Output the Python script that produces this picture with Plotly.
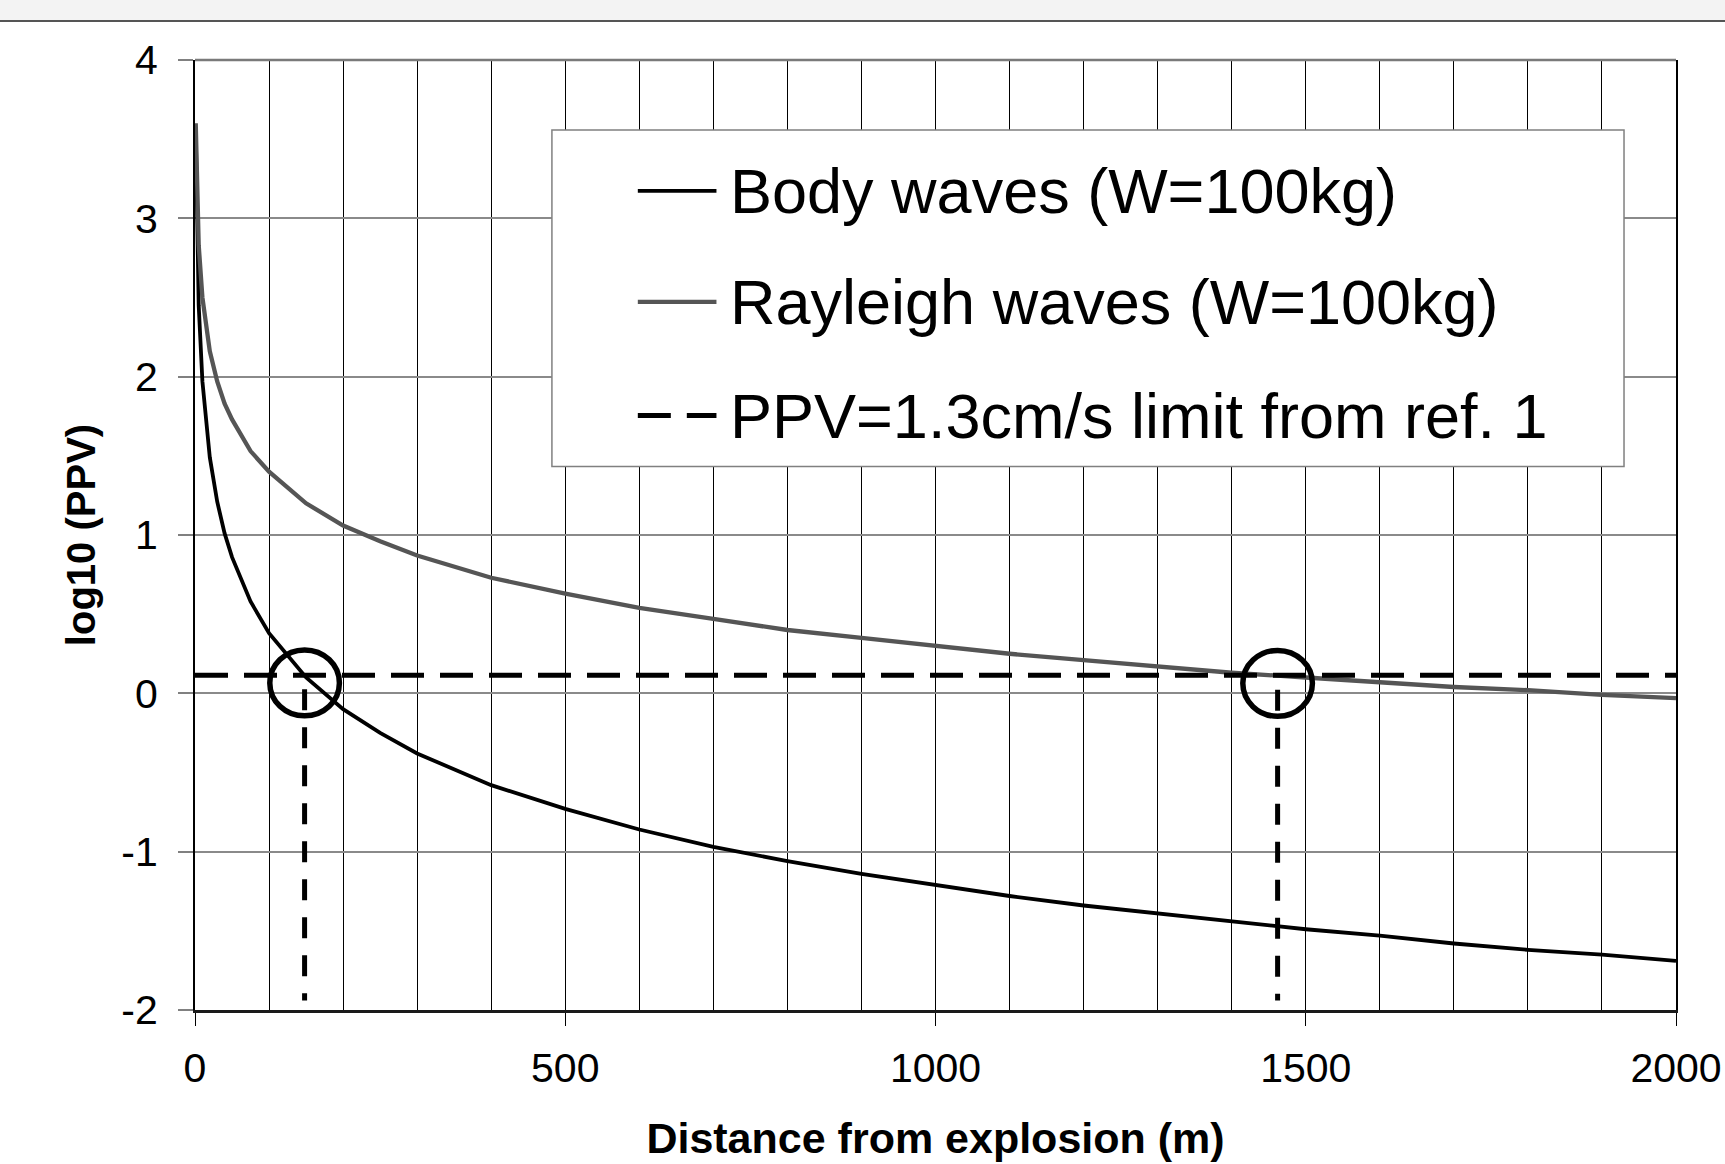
import plotly.graph_objects as go

# ---------------- data ----------------
distance_m = [1, 5, 10, 20, 30, 40, 50, 75, 100, 150, 200, 250, 300, 400, 500,
              600, 700, 800, 900, 1000, 1100, 1200, 1300, 1400, 1500, 1600,
              1700, 1800, 1900, 2000]
body_log_ppv = [3.56, 2.45, 1.97, 1.49, 1.21, 1.01, 0.86, 0.58, 0.38, 0.10,
                -0.10, -0.25, -0.38, -0.58, -0.73, -0.86, -0.97, -1.06, -1.14,
                -1.21, -1.28, -1.34, -1.39, -1.44, -1.49, -1.53, -1.58, -1.62,
                -1.65, -1.69]
rayleigh_log_ppv = [3.60, 2.83, 2.50, 2.16, 1.97, 1.83, 1.73, 1.53, 1.40, 1.20,
                    1.06, 0.96, 0.87, 0.73, 0.63, 0.54, 0.47, 0.40, 0.35, 0.30,
                    0.25, 0.21, 0.17, 0.13, 0.10, 0.07, 0.04, 0.02, -0.01, -0.03]
limit_x = [0, 2000]
limit_log_ppv = [0.114, 0.114]          # log10(1.3 cm/s)
crossing_x = [148, 1462]                # where the curves meet the limit
crossing_y = [0.066, 0.063]
series_names = ["Body waves (W=100kg)", "Rayleigh waves (W=100kg)",
                "PPV=1.3cm/s limit from ref. 1"]
y_tick_values = [-2, -1, 0, 1, 2, 3, 4]
y_tick_labels = ["-2", "-1", "0", "1", "2", "3", "4"]
x_tick_values = [0, 500, 1000, 1500, 2000]
x_tick_labels = ["0", "500", "1000", "1500", "2000"]
x_title = "Distance from explosion (m)"
y_title = "log10 (PPV)"

FONT = "Liberation Sans, Arial, sans-serif"

fig = go.Figure()
fig.add_trace(go.Scatter(x=distance_m, y=body_log_ppv, mode="lines",
                         name=series_names[0], showlegend=False,
                         line=dict(color="#000000", width=3.8)))
fig.add_trace(go.Scatter(x=distance_m, y=rayleigh_log_ppv, mode="lines",
                         name=series_names[1], showlegend=False,
                         line=dict(color="#555555", width=4.3)))
fig.add_trace(go.Scatter(x=limit_x, y=limit_log_ppv, mode="lines",
                         name=series_names[2], showlegend=False,
                         line=dict(color="#000000", width=5, dash="33px,16px")))

shapes = []
# page header bar
shapes.append(dict(type="rect", xref="paper", yref="paper", x0=-0.14, x1=1.05,
                   y0=1.0410, y1=1.07, fillcolor="#f3f3f3",
                   line=dict(width=0), layer="below"))
shapes.append(dict(type="line", xref="paper", yref="paper", x0=-0.14, x1=1.05,
                   y0=1.0410, y1=1.0410, line=dict(color="#555555", width=2)))
# grey top border of the plot area
shapes.append(dict(type="line", xref="paper", yref="paper", x0=0, x1=1,
                   y0=1, y1=1, line=dict(color="#7a7a7a", width=2.5)))

# circles and vertical drop lines at the crossings
for cx, cy in zip(crossing_x, crossing_y):
    shapes.append(dict(type="circle", xref="x", yref="y",
                       x0=cx - 47, x1=cx + 47, y0=cy - 0.208, y1=cy + 0.208,
                       line=dict(color="#000000", width=5.5), layer="above"))
    shapes.append(dict(type="line", xref="x", yref="y", x0=cx, x1=cx,
                       y0=cy - 0.04, y1=-1.94,
                       line=dict(color="#000000", width=5, dash="21px,17px"),
                       layer="above"))

# legend box (drawn by hand to match the reference layout)
lx0, lx1, ly0, ly1 = 0.2410, 0.9649, 0.572, 0.9264
shapes.append(dict(type="rect", xref="paper", yref="paper", x0=lx0, x1=lx1,
                   y0=ly0, y1=ly1, fillcolor="#ffffff",
                   line=dict(color="#808080", width=1.5), layer="above"))
row_y = [0.8623, 0.7455, 0.6257]
sample_styles = [dict(color="#000000", width=3.8),
                 dict(color="#555555", width=4.3),
                 dict(color="#000000", width=5, dash="33px,16px")]
annotations = []
for ry, style, name in zip(row_y, sample_styles, series_names):
    shapes.append(dict(type="line", xref="paper", yref="paper",
                       x0=0.2990, x1=0.3521, y0=ry, y1=ry, line=style,
                       layer="above"))
    annotations.append(dict(xref="paper", yref="paper", x=0.3600, y=ry,
                            xanchor="left", yanchor="middle", showarrow=False,
                            text=name, font=dict(family=FONT, size=63,
                                                 color="#000000")))

fig.update_layout(
    width=1725, height=1164,
    margin=dict(l=195, r=49, t=60, b=154, autoexpand=False),
    paper_bgcolor="#ffffff", plot_bgcolor="#ffffff",
    font=dict(family=FONT, color="#000000"),
    shapes=shapes, annotations=annotations,
    showlegend=False,
)
fig.update_xaxes(
    range=[0, 2000], tickmode="array", tickvals=x_tick_values,
    ticktext=x_tick_labels, automargin=False,
    ticks="outside", ticklen=13, tickcolor="#000000", tickwidth=1,
    tickfont=dict(family=FONT, size=41), ticklabelstandoff=7,
    showgrid=True, gridcolor="#000000", gridwidth=1,
    minor=dict(dtick=100, tick0=0, showgrid=True, gridcolor="#000000",
               gridwidth=1, ticks=""),
    showline=True, linecolor="#1a1a1a", linewidth=2.5, mirror=False,
    zeroline=False,
    title=dict(text="<b>" + x_title + "</b>", standoff=33,
               font=dict(family=FONT, size=43)),
)
fig.update_yaxes(
    range=[-2, 4], tickmode="array", tickvals=y_tick_values,
    ticktext=y_tick_labels, automargin=False,
    ticks="outside", ticklen=15, tickcolor="#808080", tickwidth=2,
    tickfont=dict(family=FONT, size=41), ticklabelstandoff=12,
    showgrid=True, gridcolor="#8a8a8a", gridwidth=1.8,
    showline=True, linecolor="#000000", linewidth=2, mirror=True,
    zeroline=False,
    title=dict(text="<b>" + y_title + "</b>", standoff=13,
               font=dict(family=FONT, size=40)),
)

fig.write_html("out.html")
